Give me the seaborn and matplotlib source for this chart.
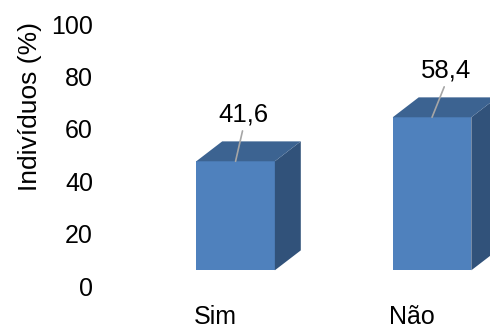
import matplotlib
matplotlib.use("Agg")
import matplotlib.pyplot as plt
import matplotlib.transforms as mtransforms
from matplotlib.patches import Polygon
import seaborn as sns
import pandas as pd

categories = ["Sim", "Não"]
values = [41.6, 58.4]
value_labels = ["41,6", "58,4"]
yticks = [0, 20, 40, 60, 80, 100]

sns.set_style("white")
plt.rcParams["font.family"] = ["Liberation Sans", "DejaVu Sans"]
plt.rcParams["text.color"] = "black"
plt.rcParams["axes.labelcolor"] = "black"
plt.rcParams["xtick.color"] = "black"
plt.rcParams["ytick.color"] = "black"

FRONT = "#4F81BD"
TOP = "#3C6391"
SIDE = "#31527A"

fig = plt.figure(figsize=(4.9, 3.29), dpi=100)
ax = fig.add_axes([100 / 490, 43 / 329, 390 / 490, 262 / 329])

df = pd.DataFrame({"cat": categories, "val": values})
bar_w = 0.40
sns.barplot(data=df, x="cat", y="val", color=FRONT, width=bar_w,
            saturation=1, ax=ax, linewidth=0)

# bars stand on a floor slightly above the value axis origin
base = 6.0
depth_x = 0.132
depth_y = 7.6
for patch in ax.patches:
    patch.set_y(base)
    x0 = patch.get_x()
    x1 = x0 + patch.get_width()
    top = base + patch.get_height()
    ax.add_patch(Polygon([(x1, base), (x1 + depth_x, base + depth_y),
                          (x1 + depth_x, top + depth_y), (x1, top)],
                         closed=True, facecolor=SIDE, edgecolor="none"))
    ax.add_patch(Polygon([(x0, top), (x1, top), (x1 + depth_x, top + depth_y),
                          (x0 + depth_x, top + depth_y)],
                         closed=True, facecolor=TOP, edgecolor="none"))

for i, (v, lab) in enumerate(zip(values, value_labels)):
    ax.annotate(lab, xy=(i, base + v), xytext=(8 + 6 * i, 47),
                textcoords="offset pixels", ha="center", va="center",
                fontsize=18.5, color="black",
                arrowprops=dict(arrowstyle="-", color="#A6A6A6", lw=1.2,
                                shrinkA=1, shrinkB=0, relpos=(0.5, 0.0)))

ax.set_xlim(-0.69, 1.295)
ax.set_ylim(0, 100)
ax.set_yticks(yticks)
ax.set_yticklabels([str(t) for t in yticks])
ax.tick_params(axis="y", length=0, pad=5, labelsize=18)
ax.tick_params(axis="x", length=0, pad=14, labelsize=18)
shift = mtransforms.ScaledTranslation(-20 / 100, 0, fig.dpi_scale_trans)
for lbl in ax.get_xticklabels():
    lbl.set_transform(lbl.get_transform() + shift)

ax.set_xlabel("")
ax.set_ylabel("Indivíduos (%)", fontsize=19)
ax.yaxis.set_label_coords(-0.149, 0.687)
for s in ax.spines.values():
    s.set_visible(False)
ax.grid(False)

fig.savefig("out.png", dpi=100)
